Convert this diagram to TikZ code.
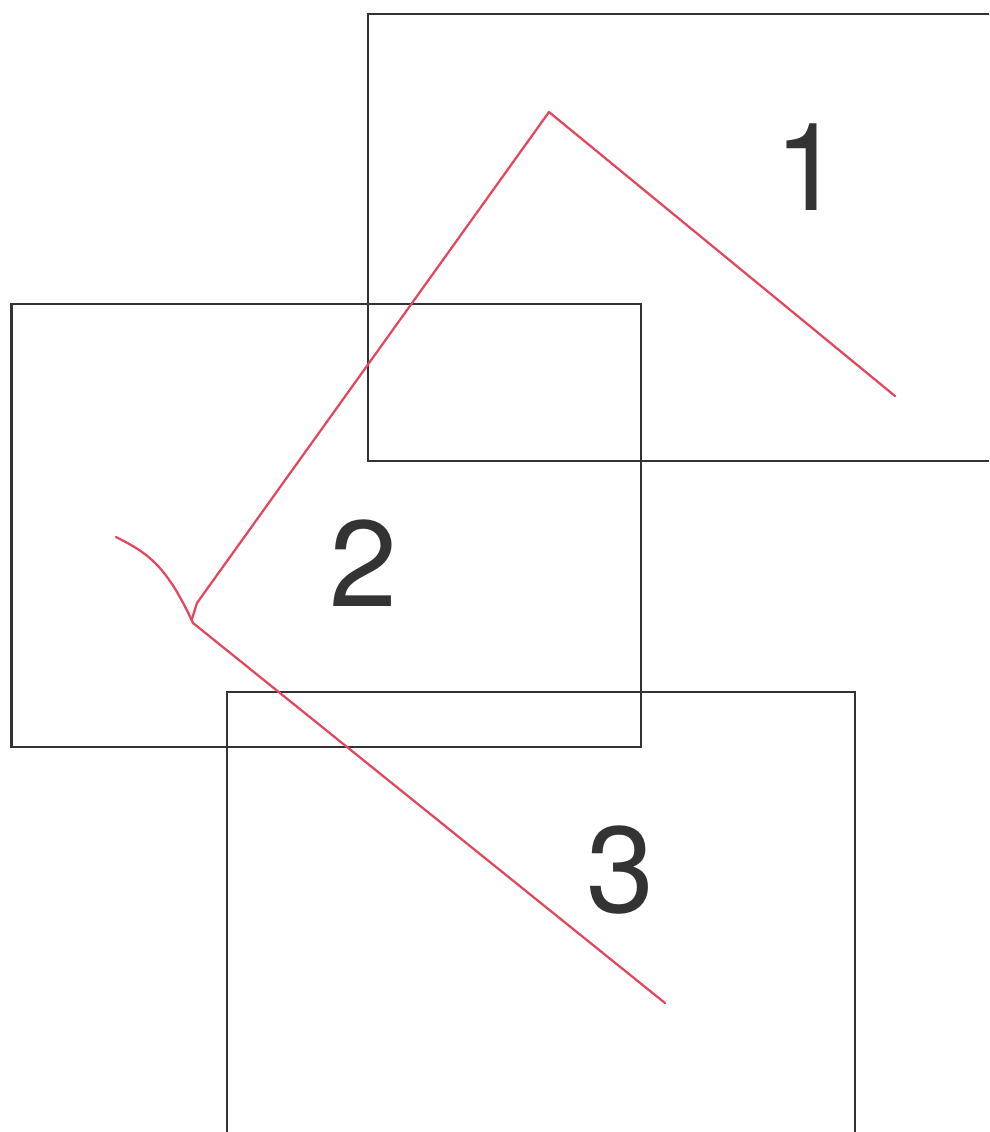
\documentclass[tikz,border=0pt]{standalone}
\usepackage{fontspec}
\setmainfont{TeX Gyre Heros}
\usetikzlibrary{positioning}
\definecolor{frame}{HTML}{333333}
\definecolor{track}{HTML}{E2475E}
\tikzset{zone/.style={draw=frame,line width=1.7pt},num/.style={text=frame,inner sep=0pt,font=\fontsize{87}{87}\selectfont},trace/.style={draw=track,line width=1.6pt,line join=round,line cap=round}}

\begin{document}
\begin{tikzpicture}[x=0.025cm,y=-0.025cm]
\clip (0,0) rectangle (989,1132);
\fill[white] (0,0) rectangle (989,1132);
\draw[zone] (368,14) rectangle (1000,461);
\draw[zone] (11.5,304) rectangle (641,747);
\draw[zone] (227,692) rectangle (855,1145);
\node[num] (n1) at (809,167) {1};
\node[num] (n2) at (364,563) {2};
\node[num] (n3) at (621,870) {3};
\coordinate (start) at (116,537);
\coordinate (cross) at (193,623);
\coordinate (end3) at (665,1003);
\coordinate (fork) at (192,619);
\coordinate (bend) at (197,603);
\coordinate (peak) at (549,112);
\coordinate (end1) at (895,396);
\draw[trace] (start) .. controls (145,552) and (165,562) .. (cross) -- (end3);
\draw[trace] (fork) -- (bend) -- (peak) -- (end1);
\end{tikzpicture}
\end{document}
